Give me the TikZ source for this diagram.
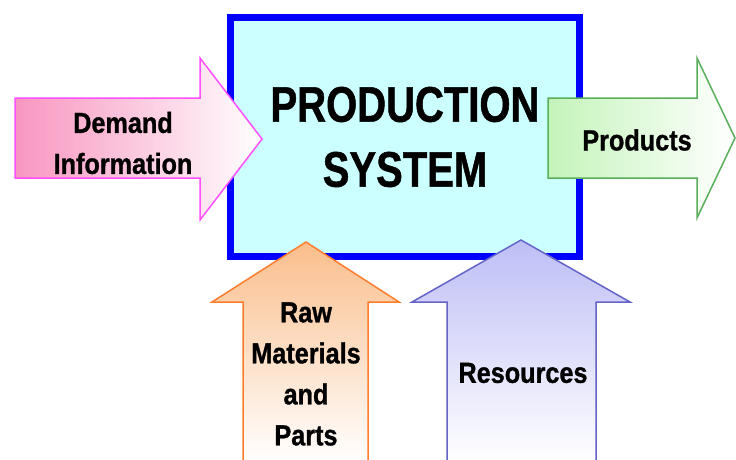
\documentclass[tikz,border=0pt]{standalone}
\usepackage{fontspec}
\usepackage{tikz}
\usetikzlibrary{calc}
\newfontfamily\titlefont{Liberation Sans}[FakeStretch=0.8, FakeBold=1]
\newfontfamily\labelfont{Liberation Sans}[FakeStretch=0.87, FakeBold=1]
\definecolor{boxfill}{RGB}{204,255,255}
\definecolor{boxline}{RGB}{0,0,255}
\definecolor{demandpink}{RGB}{248,150,192}
\definecolor{demandline}{RGB}{255,80,255}
\definecolor{productgreen}{RGB}{196,244,186}
\definecolor{productline}{RGB}{90,175,90}
\definecolor{rawpeach}{RGB}{250,190,140}
\definecolor{rawline}{RGB}{255,125,45}
\definecolor{reslilac}{RGB}{190,190,246}
\definecolor{resline}{RGB}{100,100,200}

\begin{document}
\begin{tikzpicture}[x=1pt, y=-1pt,
                arrowline/.style={line width=1.5pt, line join=miter},
                label/.style={align=center, inner sep=0pt, font=\labelfont\bfseries\fontsize{29}{41}\selectfont}]
                \useasboundingbox (0,0) rectangle (736,459);
                \clip (0,0) rectangle (736,459);
                \fill[white] (0,0) rectangle (736,459);
                \draw[boxline, fill=boxfill, line width=7pt] (230,17) rectangle (579,256);
                \coordinate (DA) at (15,98);    \coordinate (DB) at (200,98);
                \coordinate (DC) at (200,58);   \coordinate (DT) at (262,139);
                \coordinate (DD) at (200,220);  \coordinate (DE) at (200,178);
                \coordinate (DF) at (15,178);
                \shadedraw[left color=demandpink, right color=white, draw=demandline, arrowline]
                    (DA) -- (DB) -- (DC) -- (DT) -- (DD) -- (DE) -- (DF) -- cycle;
                \coordinate (PA) at (548,98);   \coordinate (PB) at (697,98);
                \coordinate (PC) at (697,58);   \coordinate (PT) at (735,138);
                \coordinate (PD) at (697,218);  \coordinate (PE) at (697,178);
                \coordinate (PF) at (548,178);
                \shadedraw[left color=productgreen, right color=white, draw=productline, arrowline]
                    (PA) -- (PB) -- (PC) -- (PT) -- (PD) -- (PE) -- (PF) -- cycle;
                \coordinate (RA) at (243,462);  \coordinate (RB) at (243,302);
                \coordinate (RC) at (212,302);  \coordinate (RT) at (306,242);
                \coordinate (RD) at (399,302);  \coordinate (RE) at (368,302);
                \coordinate (RF) at (368,462);
                \shade[top color=rawpeach, bottom color=white]
                    (RA) -- (RB) -- (RC) -- (RT) -- (RD) -- (RE) -- (RF) -- cycle;
                \draw[rawline, arrowline] (RA) -- (RB) -- (RC) -- (RT) -- (RD) -- (RE) -- (RF);
                \coordinate (SA) at (447,462);  \coordinate (SB) at (447,302);
                \coordinate (SC) at (412,302);  \coordinate (ST) at (521,240);
                \coordinate (SD) at (630,302);  \coordinate (SE) at (596,302);
                \coordinate (SF) at (596,462);
                \shade[top color=reslilac, bottom color=white]
                    (SA) -- (SB) -- (SC) -- (ST) -- (SD) -- (SE) -- (SF) -- cycle;
                \draw[resline, arrowline] (SA) -- (SB) -- (SC) -- (ST) -- (SD) -- (SE) -- (SF);
                \node[align=center, inner sep=0pt, font=\titlefont\bfseries\fontsize{50}{65}\selectfont]
                    (system) at (405,137) {PRODUCTION\\SYSTEM};
                \node[label] (demand) at (123,143) {Demand\\Information};
                \node[label] (products) at (637,140) {Products};
                \node[label] (raw) at (306,374) {Raw\\Materials\\and\\Parts};
                \node[label] (resources) at (523,373) {Resources};
            \end{tikzpicture}
\end{document}
